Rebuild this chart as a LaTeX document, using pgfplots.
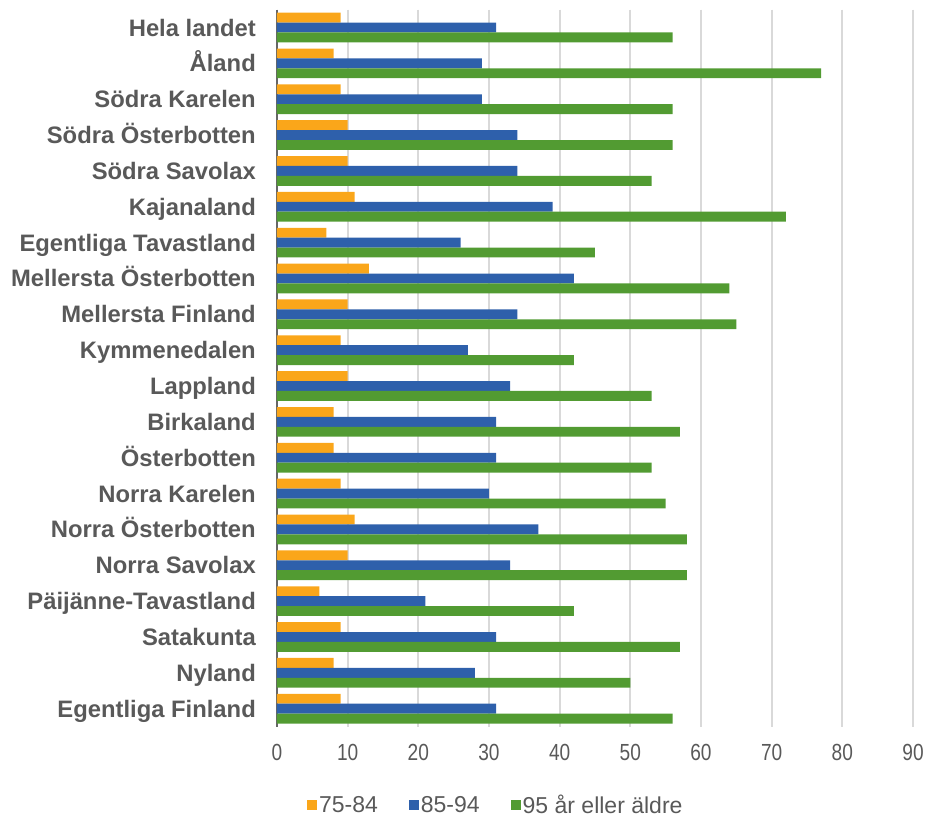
\documentclass[border=0pt]{standalone}
\usepackage{pgfplots}
\pgfplotsset{compat=1.18}
\usepackage{fontspec}
\setmainfont{Liberation Sans}
\newfontfamily\narrowf[FakeStretch=0.82]{Liberation Sans}
\definecolor{cOr}{RGB}{250,166,26}
\definecolor{cBl}{RGB}{46,96,171}
\definecolor{cGr}{RGB}{82,155,50}
\definecolor{txt}{RGB}{89,89,89}
\definecolor{grd}{RGB}{217,217,217}
\begin{document}
\begin{tikzpicture}
\begin{axis}[
    name=ax,
    width=636pt, height=717pt, scale only axis,
    xbar=0pt, bar width=9.9pt,
    xmin=0, xmax=90, ymin=-0.5, ymax=19.5,
    y dir=reverse,
    xtick={0,10,...,90},
    ytick={0,...,19},
    yticklabels={Hela landet,Åland,Södra Karelen,Södra Österbotten,Södra Savolax,Kajanaland,Egentliga Tavastland,Mellersta Österbotten,Mellersta Finland,Kymmenedalen,Lappland,Birkaland,Österbotten,Norra Karelen,Norra Österbotten,Norra Savolax,Päijänne-Tavastland,Satakunta,Nyland,Egentliga Finland},
    major tick length=0pt,
    xmajorgrids, major grid style={draw=grd, line width=2pt},
    axis x line*=bottom, axis y line*=left,
    x axis line style={draw=none},
    y axis line style={draw=black!60, line width=2pt},
    /pgf/number format/assume math mode=true,
    yticklabel style={font=\fontsize{23.8}{26}\selectfont\bfseries, text=txt, inner xsep=0pt, xshift=-21pt,
        anchor=east, text height=17pt, text depth=0pt},
    xticklabel style={font=\fontsize{23.3}{26}\selectfont\narrowf, text=txt, inner ysep=0pt, yshift=-17pt},
    legend style={at={(rel axis cs:0.344,-0.109)}, anchor=center, draw=none, fill=none,
        font=\fontsize{23}{25}\selectfont, text=txt, legend columns=3,
        /tikz/every even column/.append style={column sep=29pt},
        inner sep=0pt},
    legend image code/.code={\fill[#1] (0pt,-5pt) rectangle (10pt,5pt);},
    every axis plot/.append style={draw=none},
]
\addplot[fill=cOr, bar shift=9.9pt] coordinates {
(9,0) (8,1) (9,2) (10,3) (10,4) (11,5) (7,6) (13,7) (10,8) (9,9)
(10,10) (8,11) (8,12) (9,13) (11,14) (10,15) (6,16) (9,17) (8,18) (9,19)};
\addlegendentry{75-84}
\addplot[fill=cBl, bar shift=0pt] coordinates {
(31,0) (29,1) (29,2) (34,3) (34,4) (39,5) (26,6) (42,7) (34,8) (27,9)
(33,10) (31,11) (31,12) (30,13) (37,14) (33,15) (21,16) (31,17) (28,18) (31,19)};
\addlegendentry{85-94}
\addplot[fill=cGr, bar shift=-9.9pt] coordinates {
(56,0) (77,1) (56,2) (56,3) (53,4) (72,5) (45,6) (64,7) (65,8) (42,9)
(53,10) (57,11) (53,12) (55,13) (58,14) (58,15) (42,16) (57,17) (50,18) (56,19)};
\addlegendentry{95 år eller äldre}
\end{axis}
\path ([shift={(-277pt,-90.4pt)}]ax.south west) rectangle ([shift={(37pt,9.6pt)}]ax.north east);
\end{tikzpicture}
\end{document}
